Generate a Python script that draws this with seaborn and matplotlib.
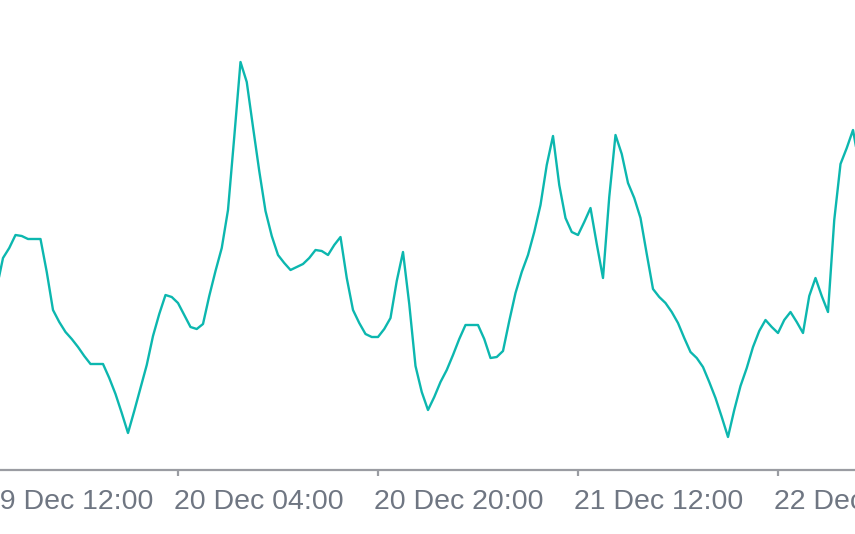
import pandas as pd
import numpy as np
import matplotlib
matplotlib.use("Agg")
import matplotlib.pyplot as plt
import matplotlib.dates as mdates
import seaborn as sns

# Serie cada 30 minutos desde el 19 Dec 13:30
inicio = "2024-12-19 13:30"
valores = [182, 212, 222, 235, 234, 231, 231, 231, 198, 160,
           148, 138, 131, 123, 114, 106, 106, 106, 92, 76,
           57, 37, 59, 82, 105, 134, 156, 175, 173, 167,
           155, 143, 141, 146, 174, 199, 222, 260, 333, 408,
           388, 343, 299, 259, 234, 215, 207, 200, 203, 206,
           212, 220, 219, 215, 225, 233, 192, 160, 147, 136,
           133, 133, 141, 152, 189, 218, 166, 104, 78, 60,
           73, 88, 100, 115, 131, 145, 145, 145, 131, 112,
           113, 119, 149, 177, 198, 215, 238, 265, 305, 334,
           285, 252, 238, 235, 248, 262, 226, 192, 273, 335,
           316, 287, 272, 252, 216, 181, 173, 167, 158, 147,
           132, 118, 112, 103, 88, 72, 53, 33, 60, 84,
           102, 123, 139, 150, 143, 137, 150, 158, 148, 137,
           174, 192, 174, 158, 250, 306, 322, 340, 305]

# Marcas del eje x
ticks_x = ["2024-12-19 12:00", "2024-12-20 04:00", "2024-12-20 20:00",
           "2024-12-21 12:00", "2024-12-22 04:00"]
etiquetas_x = ["19 Dec 12:00", "20 Dec 04:00", "20 Dec 20:00",
               "21 Dec 12:00", "22 Dec 04:00"]

df = pd.DataFrame({
    "tiempo": pd.date_range(inicio, periods=len(valores), freq="30min"),
    "valor": valores,
})

sns.set_style("white")
plt.rcParams["font.family"] = ["Liberation Sans", "DejaVu Sans"]

fig = plt.figure(figsize=(8.55, 5.34), dpi=100)
ax = fig.add_axes([0, 64 / 534, 1, 470 / 534])

sns.lineplot(data=df, x="tiempo", y="valor", ax=ax, color="#0cb7af", linewidth=1.7)

for lado in ["left", "top", "right"]:
    ax.spines[lado].set_visible(False)
ax.spines["bottom"].set_color("#9a9ca2")
ax.spines["bottom"].set_linewidth(1.6)

ticks = pd.to_datetime(ticks_x)
ax.set_xticks(ticks)
ax.set_xticklabels([])
ax.tick_params(axis="x", bottom=True, direction="out", length=4.5, width=1.6,
               color="#9a9ca2")
ax.set_yticks([])
ax.set_xlabel("")
ax.set_ylabel("")

# los limites despues de las marcas, para que no se amplien
ax.set_xlim(pd.Timestamp("2024-12-19 13:45:36"), pd.Timestamp("2024-12-22 10:09:36"))
ax.set_ylim(0, 470)

for i, (t, txt) in enumerate(zip(ticks, etiquetas_x)):
    dx = 4.5 if i == 0 else -3.2  # la primera etiqueta queda pegada al borde
    ax.annotate(txt, xy=(mdates.date2num(t), 0), xycoords=("data", "axes fraction"),
                xytext=(dx, -23), textcoords="offset points",
                ha="left", va="center", fontsize=20.5, color="#6f7682",
                annotation_clip=False)

fig.savefig("out.png", dpi=100)
